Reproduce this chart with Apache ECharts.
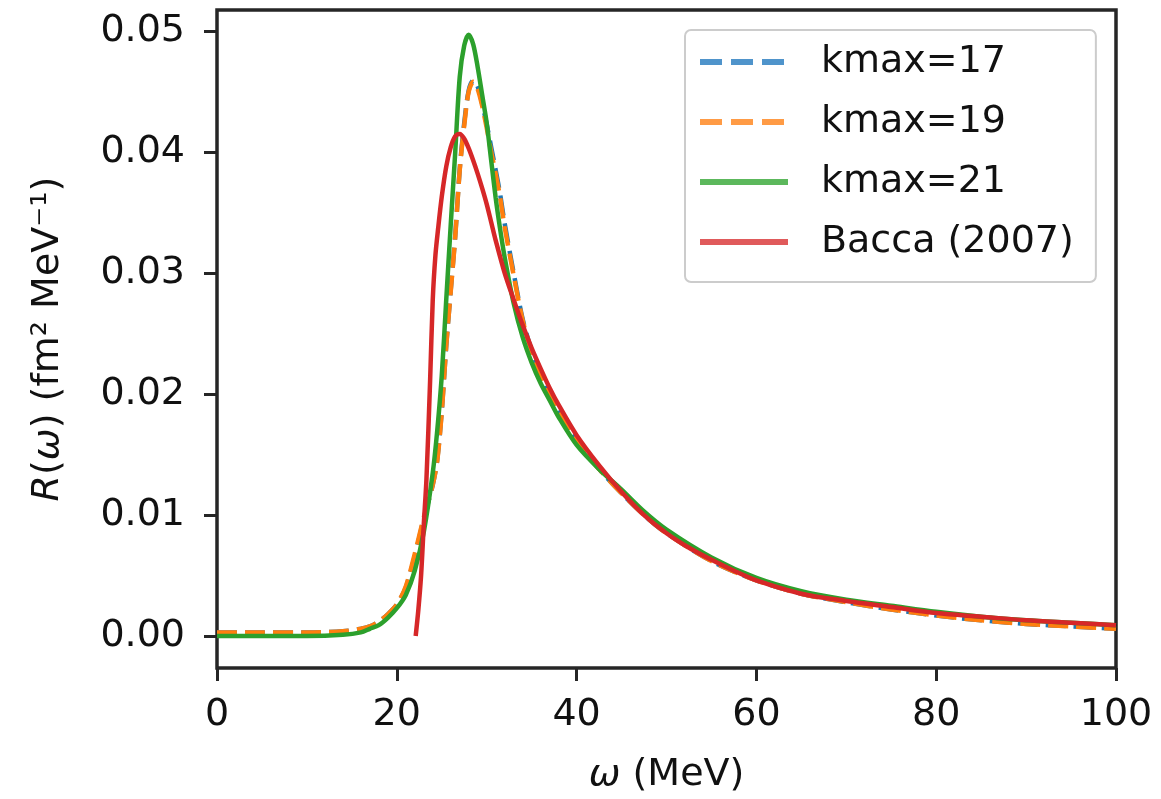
<!DOCTYPE html>
<html>
<head>
<meta charset="utf-8">
<script src="https://cdn.jsdelivr.net/npm/echarts@6/dist/echarts.min.js"></script>
<style>
html,body{margin:0;padding:0;background:#fff;}
#chart{width:1161px;height:799px;}
</style>
</head>
<body>
<div id="chart"></div>
<script>
// ---- data ----
const omegaK = [0, 5, 10, 14, 16, 17, 18, 19, 20, 21, 22, 23, 24, 24.5, 25, 25.5, 26, 26.5, 27, 27.5, 28, 28.5, 29, 29.5, 30, 30.5, 31, 31.5, 32, 33, 34, 35, 36, 37, 38, 40, 42.5, 45, 47.5, 50, 55, 60, 65, 70, 75, 80, 85, 90, 95, 100];
const kmax17 = [0.0003, 0.0003, 0.0003, 0.0004, 0.0006, 0.0008, 0.0012, 0.0018, 0.0026, 0.0040, 0.0066, 0.0097, 0.0125, 0.0146, 0.0186, 0.0240, 0.0286, 0.0331, 0.0386, 0.0424, 0.0451, 0.0459, 0.0454, 0.0440, 0.0423, 0.0404, 0.0385, 0.0365, 0.0341, 0.0300, 0.0262, 0.0236, 0.0216, 0.0200, 0.0186, 0.0162, 0.0138, 0.0118, 0.0100, 0.0085, 0.0062, 0.0046, 0.0035, 0.0028, 0.0022, 0.0017, 0.0013, 0.0010, 0.0008, 0.0006];
const kmax19 = [0.0003, 0.0003, 0.0003, 0.0004, 0.0006, 0.0008, 0.0012, 0.0018, 0.0026, 0.0041, 0.0068, 0.0098, 0.0125, 0.0145, 0.0185, 0.0240, 0.0285, 0.0330, 0.0385, 0.0422, 0.0450, 0.0458, 0.0452, 0.0438, 0.0420, 0.0400, 0.0382, 0.0362, 0.0338, 0.0298, 0.0261, 0.0235, 0.0215, 0.0199, 0.0185, 0.0161, 0.0138, 0.0118, 0.0100, 0.0085, 0.0062, 0.0046, 0.0035, 0.0028, 0.0022, 0.0017, 0.0013, 0.0010, 0.0008, 0.0006];
const kmax21 = [0.0000, 0.0000, 0.0000, 0.0001, 0.0003, 0.0006, 0.0009, 0.0015, 0.0023, 0.0034, 0.0054, 0.0086, 0.0135, 0.0170, 0.0215, 0.0278, 0.0340, 0.0400, 0.0462, 0.0488, 0.0497, 0.0489, 0.0470, 0.0447, 0.0424, 0.0393, 0.0362, 0.0336, 0.0313, 0.0275, 0.0247, 0.0226, 0.0209, 0.0195, 0.0181, 0.0158, 0.0138, 0.0121, 0.0103, 0.0088, 0.0065, 0.0048, 0.0037, 0.0030, 0.0025, 0.0020, 0.0016, 0.0013, 0.0011, 0.0009];
const omegaBacca = [22.1, 22.4, 22.7, 23.0, 23.3, 23.7, 24.0, 24.3, 24.6, 25.0, 25.5, 26.0, 26.5, 27.0, 27.5, 28.0, 28.5, 29.0, 29.5, 30.0, 30.5, 31.0, 32.0, 33.0, 34.0, 35.0, 36.0, 37.0, 38.0, 40.0, 42.5, 45.0, 47.5, 50.0, 52.5, 55.0, 57.5, 60.0, 65.0, 70.0, 75.0, 80.0, 85.0, 90.0, 95.0, 100.0];
const bacca = [0.0000, 0.0022, 0.0050, 0.0092, 0.0130, 0.0210, 0.0278, 0.0315, 0.0337, 0.0363, 0.0388, 0.0404, 0.0413, 0.0415, 0.0411, 0.0403, 0.0393, 0.0382, 0.0370, 0.0357, 0.0342, 0.0327, 0.0300, 0.0278, 0.0257, 0.0238, 0.0221, 0.0205, 0.0191, 0.0166, 0.0141, 0.0119, 0.0100, 0.0085, 0.0073, 0.0063, 0.0054, 0.0046, 0.0035, 0.0029, 0.0024, 0.0019, 0.0016, 0.0013, 0.0011, 0.0009];
const seriesNames = ['kmax=17', 'kmax=19', 'kmax=21', 'Bacca (2007)'];
const xTicks = [0, 20, 40, 60, 80, 100];
const yTicks = [0, 0.01, 0.02, 0.03, 0.04, 0.05];

const zip = (xs, ys) => xs.map((x, i) => [x, ys[i]]);
const FONT = "'DejaVu Sans', sans-serif";
const INK = '#262626';
const colors = ['#1f77b4', '#ff7f0e', '#2ca02c', '#d62728'];
const legendColors = ['#4f94cb', '#ff9b45', '#5cb85c', '#e05a5b'];

const chart = echarts.init(document.getElementById('chart'), null, {renderer: 'canvas'});
const mk = (name, data, color, dashed) => ({
  name, type: 'line', data, symbol: 'none', smooth: 0.3,
  lineStyle: {color, width: 4.5, type: dashed ? [20, 8] : 'solid', cap: 'butt'},
  itemStyle: {color},
  emphasis: {disabled: true}, animation: false
});
chart.setOption({
  animation: false,
  backgroundColor: '#fff',
  grid: {left: 217, right: 45, top: 10, bottom: 131, show: true, borderColor: INK, borderWidth: 3.5, backgroundColor: 'transparent'},
  xAxis: {
    type: 'value', min: xTicks[0], max: xTicks[xTicks.length - 1], interval: 20,
    axisLine: {show: false, onZero: false},
    axisTick: {show: true, length: 13, lineStyle: {color: INK, width: 3}},
    axisLabel: {margin: 28, fontFamily: FONT, fontSize: 38, color: '#111'},
    splitLine: {show: false},
    name: '{i|ω} (MeV)', nameLocation: 'middle', nameGap: 88,
    nameTextStyle: {fontFamily: FONT, fontSize: 38, color: '#111', rich: {i: {fontFamily: FONT, fontSize: 38, fontStyle: 'italic', color: '#111'}}}
  },
  yAxis: {
    type: 'value', min: -0.00264, max: 0.05174,
    axisLine: {show: false, onZero: false},
    axisTick: {show: true, length: 13, lineStyle: {color: INK, width: 3}, customValues: yTicks},
    axisLabel: {margin: 32, fontFamily: FONT, fontSize: 38, color: '#111', customValues: yTicks, formatter: v => v.toFixed(2)},
    splitLine: {show: false},
    name: '{i|R}({i|ω}) (fm² MeV⁻¹)', nameLocation: 'middle', nameGap: 150, nameRotate: 90,
    nameTextStyle: {fontFamily: FONT, fontSize: 38, color: '#111', rich: {i: {fontFamily: FONT, fontSize: 38, fontStyle: 'italic', color: '#111'}}}
  },
  legend: {
    orient: 'vertical', left: 685, top: 30,
    padding: [12, 22, 20, 12], itemGap: 20, itemWidth: 88, itemHeight: 14,
    borderColor: '#cccccc', borderWidth: 2, borderRadius: 6, backgroundColor: 'rgba(255,255,255,0.85)',
    textStyle: {fontFamily: FONT, fontSize: 38, color: '#111', lineHeight: 40, padding: [0, 0, 0, 28]},
    data: seriesNames.map((n, i) => ({
      name: n,
      itemStyle: {color: 'rgba(0,0,0,0)', borderWidth: 0, opacity: 0},
      lineStyle: {color: legendColors[i], width: 6, type: i < 2 ? [22, 9] : 'solid', cap: 'butt', opacity: 1}
    }))
  },
  series: [
    mk(seriesNames[0], zip(omegaK, kmax17), colors[0], true),
    mk(seriesNames[1], zip(omegaK, kmax19), colors[1], true),
    mk(seriesNames[2], zip(omegaK, kmax21), colors[2], false),
    mk(seriesNames[3], zip(omegaBacca, bacca), colors[3], false)
  ]
});
</script>
</body>
</html>
